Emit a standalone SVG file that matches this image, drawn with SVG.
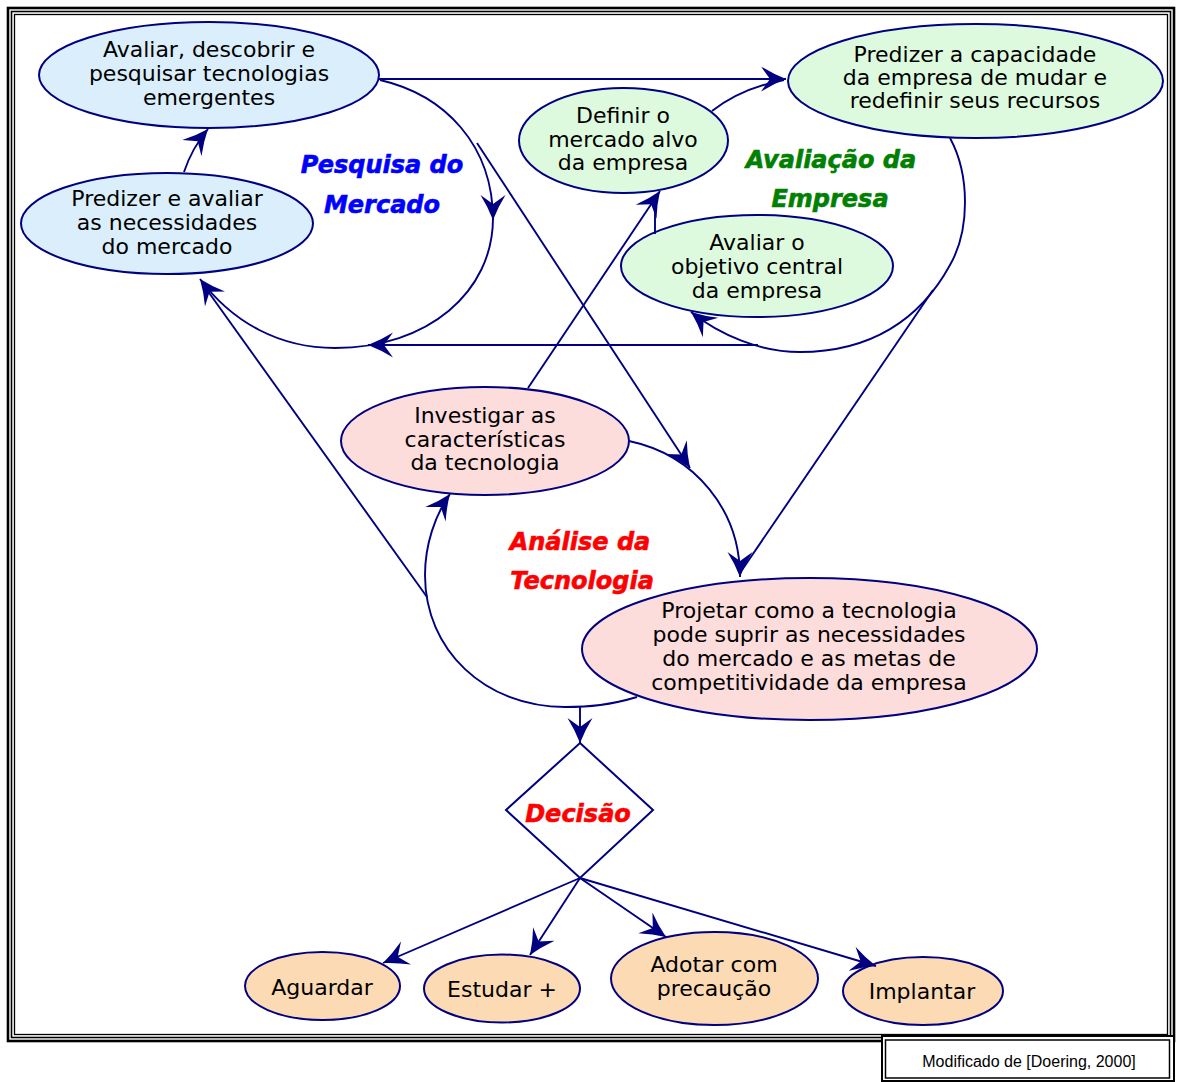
<svg xmlns="http://www.w3.org/2000/svg" width="1177" height="1082" viewBox="0 0 1177 1082">
  <style>
    .frame { fill: none; stroke: #000; }
    .node ellipse { stroke: #000080; stroke-width: 2; }
    .blue ellipse { fill: #DAEFFB; }
    .green ellipse { fill: #DEFADE; }
    .pink ellipse { fill: #FDDCDC; }
    .peach ellipse { fill: #FCDAB4; }
    .node text { font-family: "DejaVu Sans", "Liberation Sans", sans-serif; font-size: 22px; fill: #000; text-anchor: middle; }
    .title { font-family: "DejaVu Sans", "Liberation Sans", sans-serif; font-size: 24px; font-weight: bold; font-style: oblique; text-anchor: middle; stroke-width: 0.6; }
    .conn path { fill: none; stroke: #000080; stroke-width: 1.9; }
    .note { font-family: "Liberation Sans", Arial, sans-serif; font-size: 16px; fill: #000; text-anchor: middle; }
  </style>
  <defs>
    <marker id="arrow" viewBox="0 0 26 26" refX="25" refY="13" markerWidth="26" markerHeight="26" markerUnits="userSpaceOnUse" orient="auto">
      <path d="M25,13 Q12,8 0,0.5 L9,13 L0,25.5 Q12,18 25,13 Z" fill="#000080"/>
    </marker>
    <clipPath id="clipObj">
      <rect x="600" y="200" width="320" height="101"/>
    </clipPath>
  </defs>

  <rect width="1177" height="1082" fill="#fff"/>

  <!-- page frame -->
  <g id="frame">
    <rect class="frame" x="8" y="8" width="1166" height="1033" stroke-width="2.6"/>
    <rect class="frame" x="11.5" y="11.5" width="1159" height="1026" stroke-width="1.6"/>
    <rect class="frame" x="14.5" y="14.5" width="1153" height="1020" stroke-width="1.3"/>
  </g>

  <!-- market research cycle -->
  <g id="n-avaliar-tecnologias" class="node blue">
    <ellipse cx="209" cy="75" rx="170" ry="53"/>
    <text x="209" y="57">Avaliar, descobrir e</text>
    <text x="209" y="81">pesquisar tecnologias</text>
    <text x="209" y="105">emergentes</text>
  </g>
  <g id="n-predizer-necessidades" class="node blue">
    <ellipse cx="167" cy="223.5" rx="146" ry="50.5"/>
    <text x="167" y="206">Predizer e avaliar</text>
    <text x="167" y="230">as necessidades</text>
    <text x="167" y="254">do mercado</text>
  </g>

  <!-- company evaluation cycle -->
  <g id="n-predizer-capacidade" class="node green">
    <ellipse cx="975.5" cy="81" rx="187.5" ry="57"/>
    <text x="975" y="62">Predizer a capacidade</text>
    <text x="975" y="85">da empresa de mudar e</text>
    <text x="975" y="108">redefinir seus recursos</text>
  </g>
  <g id="n-definir-mercado" class="node green">
    <ellipse cx="623.5" cy="140.5" rx="104.5" ry="52.5"/>
    <text x="623" y="123">Definir o</text>
    <text x="623" y="147">mercado alvo</text>
    <text x="623" y="170">da empresa</text>
  </g>
  <g id="n-avaliar-objetivo" class="node green">
    <ellipse cx="757" cy="266" rx="136" ry="51"/>
    <text x="757" y="250">Avaliar o</text>
    <text x="757" y="274">objetivo central</text>
    <text x="757" y="298" clip-path="url(#clipObj)">da empresa</text>
  </g>

  <!-- technology analysis cycle -->
  <g id="n-investigar" class="node pink">
    <ellipse cx="485" cy="441" rx="144" ry="54"/>
    <text x="485" y="423">Investigar as</text>
    <text x="485" y="447">características</text>
    <text x="485" y="470">da tecnologia</text>
  </g>
  <g id="n-projetar" class="node pink">
    <ellipse cx="809.5" cy="649" rx="227.5" ry="71"/>
    <text x="809" y="618">Projetar como a tecnologia</text>
    <text x="809" y="642">pode suprir as necessidades</text>
    <text x="809" y="666">do mercado e as metas de</text>
    <text x="809" y="690">competitividade da empresa</text>
  </g>

  <!-- decision and outcomes -->
  <g id="n-decisao">
    <polygon points="580,743 653,810 580,878 506,810" fill="#fff" stroke="#000080" stroke-width="2"/>
    <text class="title" x="578" y="822" fill="#FF0000" stroke="#FF0000">Decisão</text>
  </g>
  <g id="n-aguardar" class="node peach">
    <ellipse cx="322.5" cy="986" rx="77.5" ry="34"/>
    <text x="322" y="995">Aguardar</text>
  </g>
  <g id="n-estudar" class="node peach">
    <ellipse cx="502" cy="988.5" rx="78" ry="34"/>
    <text x="502" y="997">Estudar +</text>
  </g>
  <g id="n-adotar" class="node peach">
    <ellipse cx="714.5" cy="978.5" rx="103.5" ry="46.5"/>
    <text x="714" y="972">Adotar com</text>
    <text x="714" y="996">precaução</text>
  </g>
  <g id="n-implantar" class="node peach">
    <ellipse cx="923" cy="991" rx="80" ry="34"/>
    <text x="922" y="999">Implantar</text>
  </g>

  <!-- cycle titles -->
  <g id="titles">
    <text class="title" x="382" y="173" fill="#0000FF" stroke="#0000FF">Pesquisa do</text>
    <text class="title" x="382" y="213" fill="#0000FF" stroke="#0000FF">Mercado</text>
    <text class="title" x="831" y="168" fill="#008000" stroke="#008000">Avaliação da</text>
    <text class="title" x="830" y="207" fill="#008000" stroke="#008000">Empresa</text>
    <text class="title" x="580" y="550" fill="#FF0000" stroke="#FF0000">Análise da</text>
    <text class="title" x="582" y="589" fill="#FF0000" stroke="#FF0000">Tecnologia</text>
  </g>

  <!-- connectors -->
  <g id="connectors" class="conn">
    <path d="M184,172 Q192,148 208,129" marker-end="url(#arrow)"/>
    <path d="M379,79 L786,79" marker-end="url(#arrow)"/>
    <path d="M712,111 C730,97 752,86 784,80"/>
    <!-- market research loop -->
    <path d="M380,80 C445,95 493,145 493,220" marker-end="url(#arrow)"/>
    <path d="M493,218 C493,292 428,348 335,348 C280,348 233,323 200,279" marker-end="url(#arrow)"/>
    <path d="M758,345 L368,345" marker-end="url(#arrow)"/>
    <!-- company evaluation loop -->
    <path d="M950,138 C970,175 970,230 950,265 C920,320 870,352 800,352 C760,352 720,335 691,312" marker-end="url(#arrow)"/>
    <path d="M655,234 L655,198"/>
    <path d="M528,388 L660,191" marker-end="url(#arrow)"/>
    <!-- cross links -->
    <path d="M477,143 L690,468" marker-end="url(#arrow)"/>
    <path d="M933,290 L742,570"/>
    <path d="M427,597 L202,283"/>
    <!-- technology analysis loop -->
    <path d="M629,441 C695,455 740,510 740,577" marker-end="url(#arrow)"/>
    <path d="M637,697 C610,705 590,707 565,707 C485,707 425,650 425,575 C425,545 435,515 450,494" marker-end="url(#arrow)"/>
    <path d="M580,707 L580,743" marker-end="url(#arrow)"/>
    <!-- decision outcomes -->
    <path d="M580,878 L383,963" marker-end="url(#arrow)"/>
    <path d="M580,878 L530,955" marker-end="url(#arrow)"/>
    <path d="M580,878 L666,937" marker-end="url(#arrow)"/>
    <path d="M580,878 L876,966" marker-end="url(#arrow)"/>
  </g>

  <!-- source note -->
  <g id="source">
    <rect x="882" y="1036" width="292" height="45" fill="#fff" stroke="#000" stroke-width="2"/>
    <rect x="885.5" y="1040" width="284" height="38" fill="none" stroke="#000" stroke-width="1.5"/>
    <text class="note" x="1029" y="1067">Modificado de [Doering, 2000]</text>
  </g>
</svg>
